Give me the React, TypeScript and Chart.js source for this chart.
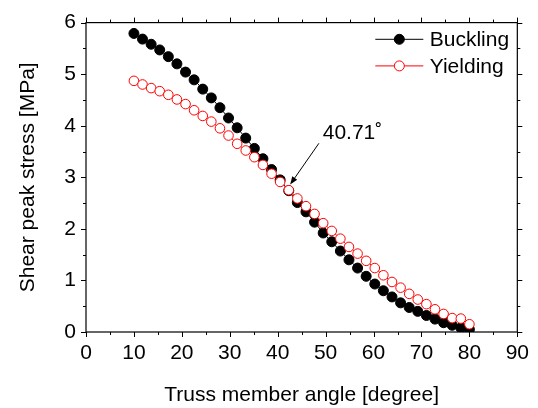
import React, { useEffect, useRef } from "react";
import { Chart, registerables } from "chart.js";

Chart.register(...registerables);

const angles = [
  10.0, 11.79, 13.59, 15.38, 17.18, 18.97, 20.77, 22.56, 24.36, 26.15,
  27.95, 29.74, 31.54, 33.33, 35.13, 36.92, 38.72, 40.51, 42.31, 44.1,
  45.9, 47.69, 49.49, 51.28, 53.08, 54.87, 56.67, 58.46, 60.26, 62.05,
  63.85, 65.64, 67.44, 69.23, 71.03, 72.82, 74.62, 76.41, 78.21, 80.0,
];
const buckling = [
  5.79, 5.68, 5.58, 5.47, 5.34, 5.2, 5.04, 4.89, 4.71, 4.54,
  4.35, 4.15, 3.96, 3.76, 3.56, 3.36, 3.15, 2.95, 2.74, 2.51,
  2.33, 2.13, 1.92, 1.75, 1.57, 1.4, 1.24, 1.08, 0.93, 0.8,
  0.68, 0.565, 0.475, 0.4, 0.32, 0.25, 0.18, 0.13, 0.08, 0.05,
];
const yielding = [
  4.87, 4.8, 4.73, 4.67, 4.6, 4.51, 4.42, 4.3, 4.19, 4.08,
  3.95, 3.81, 3.65, 3.52, 3.39, 3.24, 3.07, 2.91, 2.75, 2.59,
  2.44, 2.29, 2.11, 1.96, 1.81, 1.65, 1.52, 1.38, 1.24, 1.1,
  0.97, 0.86, 0.74, 0.63, 0.54, 0.44, 0.35, 0.27, 0.26, 0.15,
];
const seriesNames = ["Buckling", "Yielding"];
const xTitle = "Truss member angle [degree]";
const yTitle = "Shear peak stress [MPa]";
const annotationText = "40.71˚";
const annotationTextAt = { x: 49.4, y: 3.74 };
const arrowFrom = { x: 48.6, y: 3.66 };
const arrowTo = { x: 42.6, y: 2.86 };

const X_MIN = 0, X_MAX = 90, X_STEP = 10;
const Y_MIN = 0, Y_MAX = 6, Y_STEP = 1;

const FAMILY = "'Liberation Sans', Arial, Helvetica, sans-serif";
const RED = "#ff0000";

const framePlugin = {
  id: "frameTicks",
  afterDraw(chart: any) {
    const ctx = chart.ctx;
    const { left, right, top, bottom } = chart.chartArea;
    const xs = chart.scales.x;
    const ys = chart.scales.y;
    ctx.save();
    ctx.strokeStyle = "#000";
    ctx.lineWidth = 1.2;
    ctx.strokeRect(left, top, right - left, bottom - top);
    ctx.lineWidth = 1;
    ctx.beginPath();
    for (let v = X_MIN; v <= X_MAX + 1e-9; v += X_STEP / 2) {
      const major = Math.abs(v / X_STEP - Math.round(v / X_STEP)) < 1e-6;
      const len = major ? 5 : 3;
      const px = Math.round(xs.getPixelForValue(v)) + 0.5;
      ctx.moveTo(px, bottom);
      ctx.lineTo(px, bottom + len);
      ctx.moveTo(px, top);
      ctx.lineTo(px, top - len);
    }
    for (let v = Y_MIN; v <= Y_MAX + 1e-9; v += Y_STEP / 2) {
      const major = Math.abs(v / Y_STEP - Math.round(v / Y_STEP)) < 1e-6;
      const len = major ? 5 : 3;
      const py = Math.round(ys.getPixelForValue(v)) + 0.5;
      ctx.moveTo(left, py);
      ctx.lineTo(left - len, py);
      ctx.moveTo(right, py);
      ctx.lineTo(right + len, py);
    }
    ctx.stroke();

    // legend
    const lx0 = right - 142;
    const lx1 = right - 94;
    const lxm = (lx0 + lx1) / 2;
    const rows = [
      { name: seriesNames[0], color: "#000", fill: "#000", y: top + 16.7 },
      { name: seriesNames[1], color: RED, fill: "#fff", y: top + 43.3 },
    ];
    ctx.font = `21px ${FAMILY}`;
    ctx.textBaseline = "middle";
    ctx.textAlign = "left";
    for (const r of rows) {
      ctx.strokeStyle = r.color;
      ctx.lineWidth = 1;
      ctx.beginPath();
      ctx.moveTo(lx0, r.y);
      ctx.lineTo(lx1, r.y);
      ctx.stroke();
      ctx.beginPath();
      ctx.arc(lxm, r.y, 5, 0, Math.PI * 2);
      ctx.fillStyle = r.fill;
      ctx.fill();
      ctx.stroke();
      ctx.fillStyle = "#000";
      ctx.fillText(r.name, right - 87.6, r.y + 1);
    }

    // annotation
    const tx = xs.getPixelForValue(annotationTextAt.x);
    const ty = ys.getPixelForValue(annotationTextAt.y);
    ctx.textBaseline = "alphabetic";
    ctx.fillStyle = "#000";
    ctx.font = `21px ${FAMILY}`;
    ctx.fillText(annotationText, tx, ty);
    const ax0 = xs.getPixelForValue(arrowFrom.x);
    const ay0 = ys.getPixelForValue(arrowFrom.y);
    const ax1 = xs.getPixelForValue(arrowTo.x);
    const ay1 = ys.getPixelForValue(arrowTo.y);
    const ang = Math.atan2(ay1 - ay0, ax1 - ax0);
    const hl = 8, hw = 3;
    ctx.strokeStyle = "#000";
    ctx.lineWidth = 1;
    ctx.beginPath();
    ctx.moveTo(ax0, ay0);
    ctx.lineTo(ax1 - Math.cos(ang) * hl * 0.8, ay1 - Math.sin(ang) * hl * 0.8);
    ctx.stroke();
    ctx.beginPath();
    ctx.moveTo(ax1, ay1);
    ctx.lineTo(
      ax1 - Math.cos(ang) * hl - Math.sin(ang) * hw,
      ay1 - Math.sin(ang) * hl + Math.cos(ang) * hw
    );
    ctx.lineTo(
      ax1 - Math.cos(ang) * hl + Math.sin(ang) * hw,
      ay1 - Math.sin(ang) * hl - Math.cos(ang) * hw
    );
    ctx.closePath();
    ctx.fillStyle = "#000";
    ctx.fill();
    ctx.restore();
  },
};

export default function App() {
  const ref = useRef<HTMLCanvasElement | null>(null);
  useEffect(() => {
    if (!ref.current) return;
    const chart = new Chart(ref.current, {
      type: "line",
      data: {
        datasets: [
          {
            label: seriesNames[0],
            data: angles.map((a, i) => ({ x: a, y: buckling[i] })),
            borderColor: "#000",
            backgroundColor: "#000",
            pointBackgroundColor: "#000",
            pointBorderColor: "#000",
            pointRadius: 5,
            pointBorderWidth: 1,
            borderWidth: 1,
            showLine: true,
            order: 1,
          },
          {
            label: seriesNames[1],
            data: angles.map((a, i) => ({ x: a, y: yielding[i] })),
            borderColor: RED,
            backgroundColor: "#fff",
            pointBackgroundColor: "#fff",
            pointBorderColor: RED,
            pointRadius: 4.8,
            pointBorderWidth: 1,
            borderWidth: 1,
            showLine: true,
            order: 0,
          },
        ],
      },
      options: {
        responsive: false,
        animation: false,
        devicePixelRatio: 1,
        layout: { padding: { left: 0, right: 20, top: 16, bottom: 0 } },
        plugins: {
          legend: { display: false },
          tooltip: { enabled: false },
        },
        scales: {
          x: {
            type: "linear",
            min: X_MIN,
            max: X_MAX,
            ticks: {
              stepSize: X_STEP,
              padding: 9,
              color: "#000",
              maxRotation: 0,
              font: { family: FAMILY, size: 21 },
            },
            grid: { display: false, drawTicks: false },
            border: { display: false },
            title: {
              display: true,
              text: xTitle,
              color: "#000",
              font: { family: FAMILY, size: 21 },
              padding: { top: 0, bottom: 0 },
            },
            afterFit: (s: any) => {
              s.height = 76;
            },
          },
          y: {
            type: "linear",
            min: Y_MIN,
            max: Y_MAX,
            ticks: {
              stepSize: Y_STEP,
              padding: 10,
              color: "#000",
              font: { family: FAMILY, size: 21 },
            },
            grid: { display: false, drawTicks: false },
            border: { display: false },
            title: {
              display: true,
              text: yTitle,
              color: "#000",
              font: { family: FAMILY, size: 21 },
              padding: { top: 15.4, bottom: 0 },
            },
            afterFit: (s: any) => {
              s.width = 86;
            },
          },
        },
      },
      plugins: [framePlugin],
    });
    return () => chart.destroy();
  }, []);
  return (
    <div style={{ position: "absolute", left: 0, top: 0, width: 538, height: 408, background: "#fff" }}>
      <canvas ref={ref} width={538} height={408} style={{ display: "block" }} />
    </div>
  );
}
